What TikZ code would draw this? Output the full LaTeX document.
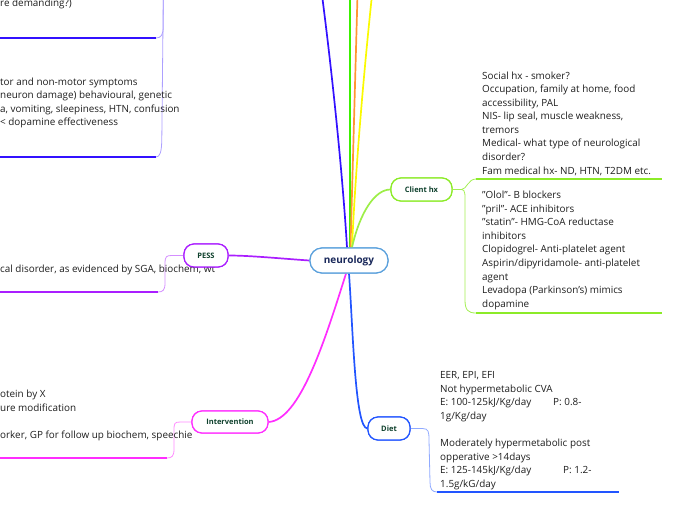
\documentclass[tikz,border=0pt]{standalone}
\usepackage{fontspec}
\setmainfont{Open Sans}
\definecolor{cBlue}{RGB}{51,17,255}
\definecolor{cGreen}{RGB}{60,240,0}
\definecolor{cOrange}{RGB}{255,150,50}
\definecolor{cYellow}{RGB}{250,250,0}
\definecolor{cLime}{RGB}{140,235,40}
\definecolor{cPurple}{RGB}{170,30,255}
\definecolor{cMagenta}{RGB}{255,45,255}
\definecolor{cDiet}{RGB}{34,85,255}
\definecolor{cNeuro}{RGB}{90,160,220}
\definecolor{cNavy}{RGB}{25,40,90}
\definecolor{cLabel}{RGB}{15,65,45}
\definecolor{cText}{RGB}{30,30,30}
\begin{document}
\begin{tikzpicture}[x=1pt,y=-1pt,
  rootbox/.style={draw=cNeuro,line width=1.2pt,fill=white,rounded corners=12pt,
    minimum width=78pt,minimum height=25pt,inner sep=0pt,
    font=\fontsize{10}{12}\selectfont\bfseries,text=cNavy},
  topicbox/.style={draw=#1,line width=1.2pt,fill=white,rounded corners=10pt,
    minimum height=23pt,inner sep=0pt,
    font=\fontsize{7.5}{9}\selectfont\bfseries,text=cLabel},
  txt/.style={anchor=north west,align=left,inner sep=0pt,
    font=\fontsize{9.9}{13.55}\selectfont,text=cText},
  mainline/.style={draw=#1,line width=1.7pt},
  thinline/.style={draw=#1,line width=0.8pt},
  underline/.style={draw=#1,line width=1.6pt}]
\useasboundingbox (0,0) rectangle (696,520);
\clip (0,0) rectangle (696,520);

% nodes
\node[rootbox] (neuro) at (349,260.5) {neurology};
\node[topicbox=cLime,minimum width=61pt] (client) at (421.5,189.5) {Client hx};
\node[topicbox=cPurple,minimum width=44pt] (pess) at (206,255.5) {PESS};
\node[topicbox=cMagenta,minimum width=76pt,minimum height=22pt] (interv) at (230,422) {Intervention};
\node[topicbox=cDiet,minimum width=42pt] (diet) at (389,428.5) {Diet};

% off-picture ends of the upward branches
\coordinate (tBlue) at (322,-5);
\coordinate (tGreen) at (350,-5);
\coordinate (tOrange) at (357.5,-5);
\coordinate (tYellow) at (372,-5);
\coordinate (tLeft) at (163.3,-5);

% main connectors
\path[mainline=cBlue] ([xshift=-2pt]neuro.north) .. controls (343,180) and (333,80) .. (tBlue);
\path[mainline=cGreen] ([xshift=1pt]neuro.north) -- (tGreen);
\path[mainline=cOrange] ([xshift=1.5pt]neuro.north) -- (tOrange);
\path[mainline=cYellow] ([xshift=3pt]neuro.north) .. controls (355,180) and (362,90) .. (tYellow);
\path[mainline=cLime!85!white] ([xshift=3pt]neuro.north) .. controls (360,212) and (375,189.5) .. (client.west);
\path[mainline=cPurple] (neuro.west) .. controls (280,258.5) and (250,255.5) .. (pess.east);
\path[mainline=cMagenta] ([xshift=-3pt]neuro.south) .. controls (325,340) and (300,420) .. (interv.east);
\path[mainline=cDiet] (neuro.south) .. controls (353,330) and (355,428.5) .. (diet.west);
\node[rootbox] at (neuro) {neurology};
\node[topicbox=cLime,minimum width=61pt] at (client) {Client hx};

% Client hx subtopics
\coordinate (chA) at (476,179);
\coordinate (chAe) at (662,179);
\coordinate (chB) at (476,313);
\coordinate (chBe) at (662,313);
\path[thinline=cLime!80!white] (client.east) -- ++(9,0) .. controls +(5,0) and +(-8,0) .. (chA);
\path[thinline=cLime!80!white] (client.east) -- ++(9,0) .. controls +(4,0) and +(0,-10) .. (465,205) -- (465,300) .. controls (465,310) and (468,313) .. (chB);
\path[underline=cLime] (chA) -- (chAe);
\path[underline=cLime] (chB) -- (chBe);
\node[txt] (chT1) at (482,71.5) {Social hx - smoker?\\Occupation, family at home, food\\accessibility, PAL\\NIS- lip seal, muscle weakness,\\tremors\\Medical- what type of neurological\\disorder?\\Fam medical hx- ND, HTN, T2DM etc.};
\node[txt] (chT2) at (482,191) {”Olol”- B blockers\\”pril”- ACE inhibitors\\”statin”- HMG-CoA reductase\\inhibitors\\Clopidogrel- Anti-platelet agent\\Aspirin/dipyridamole- anti-platelet\\agent\\Levadopa (Parkinson’s) mimics\\dopamine};

% top-left subtopics (parent above the picture)
\coordinate (tlA) at (156,38);
\coordinate (tlAe) at (0,38);
\coordinate (tlB) at (156,157);
\coordinate (tlBe) at (0,157);
\path[thinline=cBlue!40!white] (tLeft) -- (163.3,26) .. controls (163.3,35) and (161,38) .. (tlA);
\path[thinline=cBlue!40!white] (tLeft) -- (161.8,140) .. controls (161.5,152) and (160,157) .. (tlB);
\path[underline=cBlue] (tlA) -- (tlAe);
\path[underline=cBlue] (tlB) -- (tlBe);
\node[txt] (tlT1) at (0,-1.5) {re demanding?)};
\node[txt] (tlT2) at (0,77.5) {tor and non-motor symptoms\\neuron damage) behavioural, genetic\\a, vomiting, sleepiness, HTN, confusion\\< dopamine effectiveness};

% PESS subtopic
\coordinate (psA) at (158,292);
\coordinate (psAe) at (0,292);
\path[thinline=cPurple!50!white] (pess.west) -- ++(-11,0) .. controls +(-6,0) and +(0,-8) .. (165,264) -- (165,283) .. controls (165,290) and (163,292) .. (psA);
\path[underline=cPurple] (psA) -- (psAe);
\node[txt] (psT) at (0,265) {cal disorder, as evidenced by SGA, biochem, wt};

% Intervention subtopic
\coordinate (ivA) at (167,458);
\coordinate (ivAe) at (0,458);
\path[thinline=cMagenta!55!white] (interv.west) -- ++(-11,0) .. controls +(-6,0) and +(0,-8) .. (174,431) -- (174,449) .. controls (174,456) and (172,458) .. (ivA);
\path[underline=cMagenta] (ivA) -- (ivAe);
\node[txt] (ivT) at (0,390) {otein by X\\ure modification\\[13.5pt]orker, GP for follow up biochem, speechie};

% Diet subtopic
\coordinate (dtA) at (437,492);
\coordinate (dtAe) at (619,492);
\path[thinline=cDiet!50!white] (diet.east) -- ++(12,0) .. controls +(6,0) and +(0,-8) .. (429,440) -- (430,482) .. controls (430,489) and (432,492) .. (dtA);
\path[underline=cDiet] (dtA) -- (dtAe);
\node[txt] (dtT) at (440,371.5) {EER, EPI, EFI\\Not hypermetabolic CVA\\\makebox[113pt][l]{E: 100-125kJ/Kg/day}P: 0.8-\\1g/Kg/day\\[13.5pt]Moderately hypermetabolic post\\opperative >14days\\\makebox[123pt][l]{E: 125-145kJ/Kg/day}P: 1.2-\\1.5g/kG/day};

% redraw topic boxes above connectors
\node[topicbox=cPurple,minimum width=44pt] at (pess) {PESS};
\node[topicbox=cMagenta,minimum width=76pt,minimum height=22pt] at (interv) {Intervention};
\node[topicbox=cDiet,minimum width=42pt] at (diet) {Diet};
\end{tikzpicture}
\end{document}
